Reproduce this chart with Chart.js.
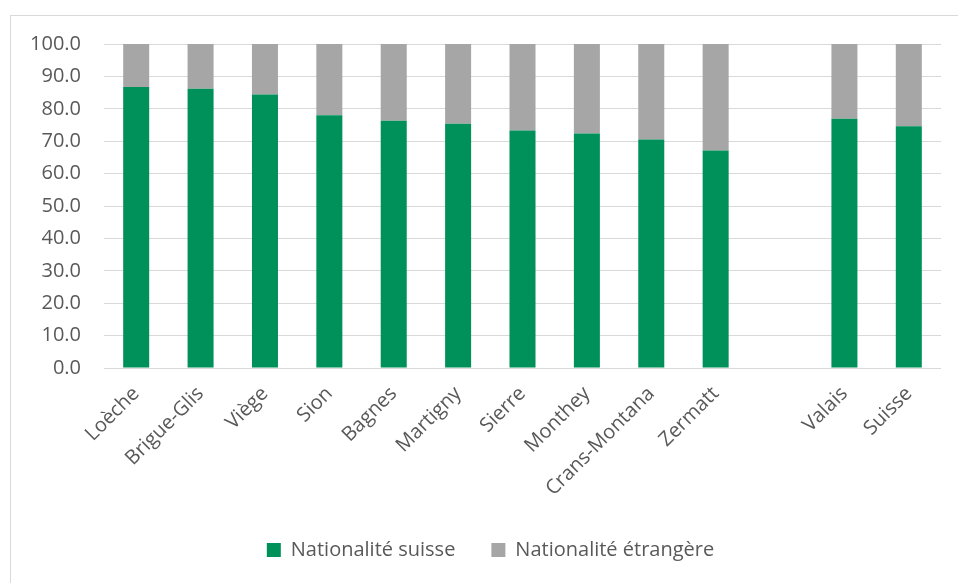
<!DOCTYPE html>
<html lang="fr">
<head>
<meta charset="utf-8">
<title>Population selon la nationalité</title>
<script src="https://cdn.jsdelivr.net/npm/chart.js@4/dist/chart.umd.min.js"></script>
<style>
  html, body { margin: 0; padding: 0; background: #ffffff; }
  body { width: 958px; height: 583px; position: relative; overflow: hidden; }
  #frame {
    position: absolute; left: 10px; top: 15px;
    width: 980px; height: 600px;
    border: 1px solid #d9d9d9; box-sizing: border-box;
  }
  #wrap { position: absolute; left: 0; top: 0; width: 958px; height: 583px; }
</style>
</head>
<body>
<div id="frame"></div>
<div id="wrap"><canvas id="chart" width="958" height="583"></canvas></div>
<script>
// Communes du Valais, puis une colonne vide, puis Valais et Suisse
const categories = ['Loèche', 'Brigue-Glis', 'Viège', 'Sion', 'Bagnes', 'Martigny', 'Sierre',
                    'Monthey', 'Crans-Montana', 'Zermatt', '', 'Valais', 'Suisse'];
// Part de la population (%) de nationalité suisse
const nationaliteSuisse = [86.7, 86.2, 84.4, 78.0, 76.3, 75.4, 73.3, 72.4, 70.5, 67.1, null, 76.9, 74.6];
// Part de la population (%) de nationalité étrangère
const nationaliteEtrangere = [13.3, 13.8, 15.6, 22.0, 23.7, 24.6, 26.7, 27.6, 29.5, 32.9, null, 23.1, 25.4];
// Graduations de l'axe vertical
const yTicks = [0, 10, 20, 30, 40, 50, 60, 70, 80, 90, 100];

const textColor = '#595959';
const fontFamily = '"Open Sans", "Liberation Sans", sans-serif';

// Décale la légende vers la droite, pour la centrer sous l'ensemble du cadre
const legendOffset = {
  id: 'legendOffset',
  afterLayout(chart, args, opts) {
    const lg = chart.legend;
    if (lg) { lg.left += opts.dx; lg.right += opts.dx; }
  }
};

new Chart(document.getElementById('chart'), {
  type: 'bar',
  data: {
    labels: categories,
    datasets: [
      { label: 'Nationalité suisse', data: nationaliteSuisse, backgroundColor: '#00905A' },
      { label: 'Nationalité étrangère', data: nationaliteEtrangere, backgroundColor: '#A6A6A6' }
    ]
  },
  plugins: [legendOffset],
  options: {
    responsive: false,
    animation: false,
    layout: { padding: { left: 0, right: 17, top: 44, bottom: 13 } },
    datasets: { bar: { barPercentage: 0.404, categoryPercentage: 1.0 } },
    plugins: {
      tooltip: { enabled: false },
      legendOffset: { dx: 20 },
      legend: {
        position: 'bottom',
        labels: {
          color: textColor,
          font: { family: fontFamily, size: 20 },
          boxWidth: 14, boxHeight: 14, padding: 36
        }
      }
    },
    scales: {
      x: {
        stacked: true,
        grid: { display: false },
        border: { display: false },
        ticks: {
          color: textColor,
          font: { family: fontFamily, size: 20 },
          minRotation: 45, maxRotation: 45, autoSkip: false, padding: 6
        },
        afterFit: (scale) => { scale.height = 136; }
      },
      y: {
        stacked: true,
        min: 0, max: 100,
        afterBuildTicks: (scale) => { scale.ticks = yTicks.map(v => ({ value: v })); },
        grid: { color: '#d9d9d9', lineWidth: 1, drawTicks: false },
        border: { display: false },
        ticks: {
          color: textColor,
          font: { family: fontFamily, size: 20 },
          padding: 23,
          callback: (v) => Number(v).toFixed(1)
        },
        afterFit: (scale) => { scale.width = 104; }
      }
    }
  }
});
</script>
</body>
</html>
